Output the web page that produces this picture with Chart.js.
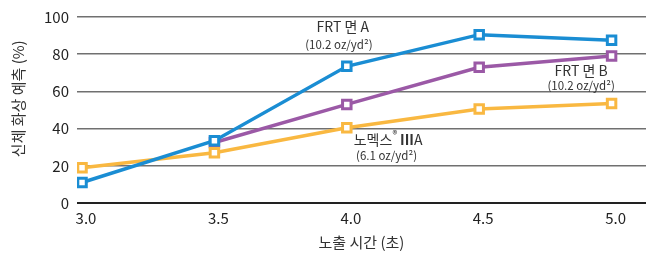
<!DOCTYPE html>
<html>
<head>
<meta charset="utf-8">
<script src="https://cdn.jsdelivr.net/npm/chart.js@4"></script>
<style>
  body { margin:0; background:#fff; }
  #wrap { width:655px; height:257px; position:relative; }
</style>
</head>
<body>
<div id="wrap"><canvas id="chart"></canvas></div>
<script>
// data
const exposureTimes = [3.0, 3.5, 4.0, 4.5, 5.0];
const frtA = [11, 33.5, 73.5, 90.5, 87.5];
const frtB = [null, 32.5, 53, 73, 79];
const nomex = [19, 27, 40.5, 50.5, 53.5];
const xTicks = [3.0, 3.5, 4.0, 4.5, 5.0];
const yTicks = [0, 20, 40, 60, 80, 100];

const FONT = "'Noto Sans CJK KR', 'Noto Sans', sans-serif";
const pts = (ys) => exposureTimes.map((x, i) => ({ x, y: ys[i] }));

function series(label, ys, color){
  return {
    label, data: pts(ys),
    borderColor: color, borderWidth: 3.5,
    pointStyle: "rect", pointRadius: 6, pointBorderWidth: 3,
    pointBackgroundColor: "#fff", pointBorderColor: color,
    tension: 0
  };
}

// text labels beside the lines, anchored in data units
const labelPlugin = {
  id: "seriesLabels",
  afterDatasetsDraw(chart){
    const { ctx, scales: { x, y } } = chart;
    ctx.save();
    ctx.fillStyle = "#333";
    ctx.textAlign = "center";
    ctx.textBaseline = "middle";
    const big = "14px " + FONT, small = "11.5px " + FONT;

    ctx.font = big;
    ctx.fillText("FRT 면 A", x.getPixelForValue(3.985), y.getPixelForValue(95));
    ctx.font = small;
    ctx.fillText("(10.2 oz/yd²)", x.getPixelForValue(3.97), y.getPixelForValue(85));

    ctx.font = big;
    ctx.fillText("FRT 면 B", x.getPixelForValue(4.885), y.getPixelForValue(71.3));
    ctx.font = small;
    ctx.fillText("(10.2 oz/yd²)", x.getPixelForValue(4.885), y.getPixelForValue(63.3));

    // 노멕스® IIIA with raised ®
    const cx = x.getPixelForValue(4.156), cy = y.getPixelForValue(34);
    const sup = "10px " + FONT, bold = "bold 14px " + FONT;
    ctx.font = big;
    const w1 = ctx.measureText("노멕스").width;
    const w4 = ctx.measureText("A").width;
    ctx.font = sup;
    const w2 = ctx.measureText("®").width + 3;
    ctx.font = bold;
    const w3 = ctx.measureText("III").width;
    let left = cx - (w1 + w2 + w3 + w4) / 2;
    ctx.textAlign = "left";
    ctx.font = big;
    ctx.fillText("노멕스", left, cy);
    ctx.font = sup;
    ctx.fillText("®", left + w1, cy - 6);
    ctx.font = bold;
    ctx.fillText("III", left + w1 + w2, cy);
    ctx.font = big;
    ctx.fillText("A", left + w1 + w2 + w3, cy);
    ctx.textAlign = "center";
    ctx.font = small;
    ctx.fillText("(6.1 oz/yd²)", x.getPixelForValue(4.15), y.getPixelForValue(25.5));
    ctx.restore();
  }
};

new Chart(document.getElementById("chart"), {
  type: "line",
  data: {
    datasets: [
      series("FRT 면 A", frtA, "#1a8dd3"),
      series("노멕스 IIIA", nomex, "#f9b841"),
      series("FRT 면 B", frtB, "#9b59a6")
    ]
  },
  options: {
    responsive: true,
    maintainAspectRatio: false,
    animation: false,
    spanGaps: false,
    layout: { padding: { top: 15, right: 0, bottom: 0, left: 0 } },
    plugins: { legend: { display: false }, tooltip: { enabled: false } },
    scales: {
      x: {
        type: "linear", min: 2.981, max: 5.13,
        afterBuildTicks: (s) => { s.ticks = xTicks.map(v => ({ value: v })); },
        afterFit: (s) => { s.height = 54; },
        grid: { display: false, drawTicks: false },
        border: { display: false },
        ticks: {
          padding: 6, labelOffset: 4, color: "#222",
          font: { family: FONT, size: 15 },
          callback: (v) => Number(v).toFixed(1)
        },
        title: {
          display: true, text: "노출 시간 (초)", color: "#333",
          font: { family: FONT, size: 15 }, padding: { top: 2, bottom: 6 }
        }
      },
      y: {
        min: 0, max: 100,
        afterBuildTicks: (s) => { s.ticks = yTicks.map(v => ({ value: v })); },
        afterFit: (s) => { s.width = 77; },
        grid: {
          drawTicks: false,
          color: (c) => c.tick && c.tick.value === 0 ? "#222" : "#707070",
          lineWidth: (c) => c.tick && c.tick.value === 0 ? 2 : 1.5
        },
        border: { display: false },
        ticks: { padding: 8, color: "#222", font: { family: FONT, size: 15 } },
        title: {
          display: true, text: "\u2003\u2002신체 화상 예측 (%)", color: "#333",
          font: { family: FONT, size: 15 }, padding: { top: 9, bottom: 0 }
        }
      }
    }
  },
  plugins: [labelPlugin]
});
</script>
</body>
</html>
